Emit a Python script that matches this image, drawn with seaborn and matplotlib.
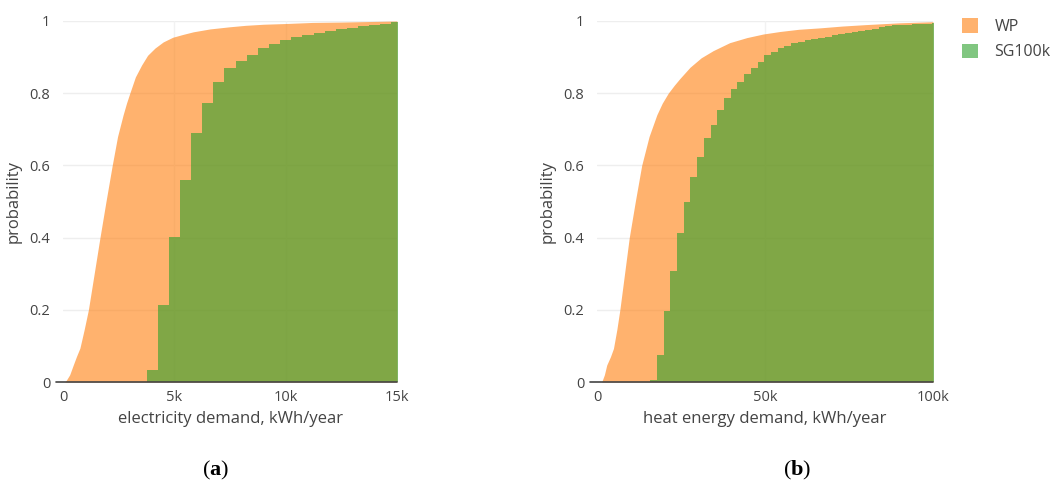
import numpy as np
import pandas as pd
import matplotlib
matplotlib.use("Agg")
import matplotlib.pyplot as plt
from matplotlib.patches import Patch
import seaborn as sns

# ---------------- data ----------------
# (a) electricity demand, kWh/year
wp_elec_x = [0, 90, 150, 300, 460, 600, 760, 950, 1140, 1400, 1660, 1930, 2210, 2450,
             2700, 2850, 3000, 3250, 3530, 3800, 4130, 4500, 4930, 5400, 5850, 6600,
             7490, 8200, 9000, 10000, 11200, 12500, 15000]
wp_elec_p = [0, 0, 0.005, 0.02, 0.047, 0.07, 0.094, 0.145, 0.2, 0.3, 0.4, 0.5, 0.6, 0.68,
             0.74, 0.772, 0.8, 0.845, 0.878, 0.905, 0.925, 0.942, 0.955, 0.963, 0.97,
             0.978, 0.984, 0.988, 0.991, 0.993, 0.996, 0.997, 1.0]

sg_elec_edges = [3750, 4250, 4750, 5250, 5750, 6250, 6750, 7250, 7750, 8250, 8750,
                 9250, 9750, 10250, 10750, 11250, 11750, 12250, 12750, 13250, 13750,
                 14250, 14750, 15250]
sg_elec_p = [0.033, 0.213, 0.403, 0.56, 0.69, 0.772, 0.83, 0.869, 0.888, 0.907, 0.924,
             0.935, 0.947, 0.955, 0.962, 0.968, 0.973, 0.977, 0.981, 0.985, 0.988,
             0.992, 0.996]

# (b) heat energy demand, kWh/year
wp_heat_x = [0, 1400, 2200, 2900, 4000, 4900, 5900, 6800, 8200, 9600, 11400, 13300,
             15500, 17800, 19400, 21200, 23000, 24700, 27700, 31000, 34600, 39500,
             44600, 49500, 54500, 60000, 66400, 73000, 80000, 90000, 100000]
wp_heat_p = [0, 0, 0.02, 0.047, 0.07, 0.093, 0.145, 0.2, 0.3, 0.4, 0.5, 0.6,
             0.68, 0.74, 0.772, 0.8, 0.822, 0.841, 0.872, 0.898, 0.918, 0.94,
             0.954, 0.964, 0.971, 0.977, 0.981, 0.986, 0.99, 0.995, 0.998]

sg_heat_edges = [15800 + 2000 * i for i in range(44)]
sg_heat_p = [0.005, 0.075, 0.196, 0.307, 0.412, 0.499, 0.569, 0.624, 0.677, 0.712,
             0.754, 0.788, 0.812, 0.832, 0.852, 0.871, 0.887, 0.905, 0.915, 0.924,
             0.932, 0.938, 0.943, 0.947, 0.951, 0.954, 0.957, 0.960, 0.963, 0.966,
             0.969, 0.972, 0.975, 0.979, 0.983, 0.986, 0.988, 0.989, 0.990, 0.991,
             0.992, 0.993, 0.994]

y_ticks = [0, 0.2, 0.4, 0.6, 0.8, 1.0]
y_labels = ["0", "0.2", "0.4", "0.6", "0.8", "1"]
elec_ticks = [0, 5000, 10000, 15000]
elec_labels = ["0", "5k", "10k", "15k"]
heat_ticks = [0, 50000, 100000]
heat_labels = ["0", "50k", "100k"]

series_names = ["WP", "SG100k"]

# ---------------- style ----------------
sns.set_theme(style="white")
plt.rcParams["font.family"] = ["Open Sans", "DejaVu Sans"]
plt.rcParams["mathtext.fontset"] = "custom"
plt.rcParams["mathtext.rm"] = "Liberation Serif"
plt.rcParams["mathtext.bf"] = "Liberation Serif:bold"

ORANGE = "#ff7f0e"
GREEN = "#2ca02c"
ALPHA = 0.6
TXT = "#444444"
GRID = "#eeeeee"

fig = plt.figure(figsize=(10.54, 4.97), dpi=100)
ax1 = fig.add_axes([63 / 1054, 1 - 382 / 497, 334 / 1054, 361 / 497])
ax2 = fig.add_axes([597 / 1054, 1 - 382 / 497, 336 / 1054, 361 / 497])


def draw(ax, wx, wp, edges, sp, xmax, ticks, labels, xlabel):
    ax.set_axisbelow(True)
    for t in y_ticks[1:]:
        ax.axhline(t, color=GRID, lw=1, zorder=0)
    for t in ticks[1:-1]:
        ax.axvline(t, color="#f2f2f2", lw=1, zorder=0)
    ax.fill_between(wx, wp, 0, color=ORANGE, alpha=ALPHA, lw=0, zorder=1)
    centers = [(edges[i] + edges[i + 1]) / 2 for i in range(len(sp))]
    sns.histplot(x=centers, weights=sp, bins=edges, stat="count",
                 element="step", fill=True, color=GREEN, alpha=ALPHA,
                 linewidth=0, ax=ax, zorder=2)
    ax.axhline(0, color=TXT, lw=1.2, zorder=3, xmin=-0.02, clip_on=False)
    ax.set_xlim(0, xmax)
    ax.set_ylim(0, 1.0)
    ax.set_xticks(ticks)
    ax.set_xticklabels(labels)
    ax.set_yticks(y_ticks)
    ax.set_yticklabels(y_labels)
    ax.tick_params(axis="both", length=0, labelsize=10.5, colors=TXT, pad=6)
    ax.tick_params(axis="y", pad=9)
    for s in ax.spines.values():
        s.set_visible(False)
    ax.set_xlabel(xlabel, fontsize=12, color=TXT, labelpad=4)
    ax.set_ylabel("probability", fontsize=12, color=TXT, labelpad=6)
    ax.grid(False)


draw(ax1, wp_elec_x, wp_elec_p, sg_elec_edges, sg_elec_p, 15000,
     elec_ticks, elec_labels, "electricity demand, kWh/year")
draw(ax2, wp_heat_x, wp_heat_p, sg_heat_edges, sg_heat_p, 100000,
     heat_ticks, heat_labels, "heat energy demand, kWh/year")

handles = [Patch(facecolor=ORANGE, alpha=ALPHA, edgecolor="none"),
           Patch(facecolor=GREEN, alpha=ALPHA, edgecolor="none")]
leg = fig.legend(handles, series_names, loc="upper left",
                 bbox_to_anchor=(948 / 1054, 1 - 4 / 497), frameon=False,
                 handlelength=1.0, handleheight=1.0, handletextpad=1.0,
                 labelspacing=0.55, fontsize=11.5)
for t in leg.get_texts():
    t.set_color(TXT)

fig.text(216 / 1054, 1 - 470 / 497, r"($\mathbf{a}$)", ha="center", va="center",
         fontsize=16, color="black", family="Liberation Serif")
fig.text(797 / 1054, 1 - 470 / 497, r"($\mathbf{b}$)", ha="center", va="center",
         fontsize=16, color="black", family="Liberation Serif")

fig.savefig("out.png", dpi=100)
